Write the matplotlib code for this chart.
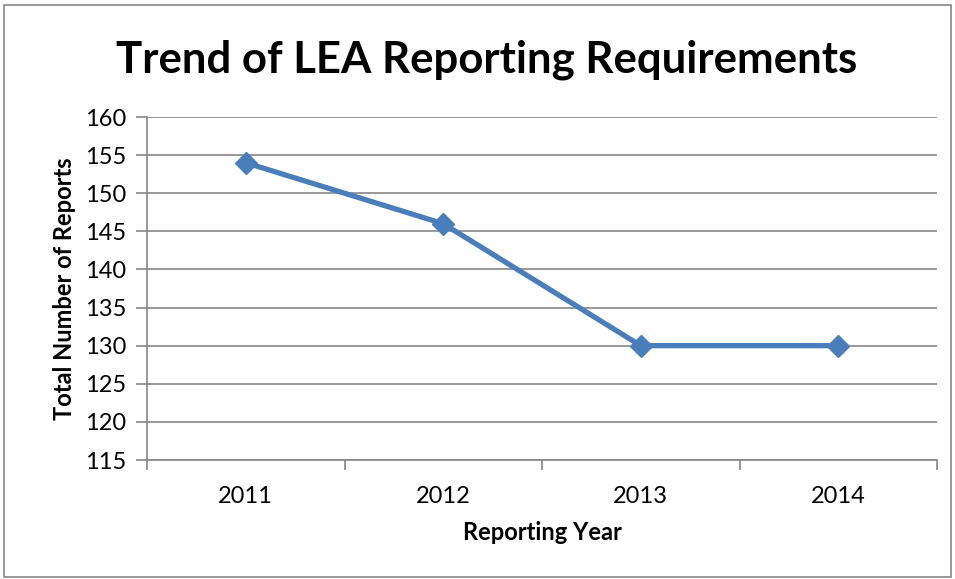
import matplotlib
matplotlib.use("Agg")
import matplotlib.pyplot as plt
from matplotlib.patches import Rectangle

years = ["2011", "2012", "2013", "2014"]
reports = [154, 146, 130, 130]

plt.rcParams['font.family'] = ['Lato', 'DejaVu Sans']

fig = plt.figure(figsize=(9.55, 5.79), dpi=100)
ax = fig.add_axes([147/955, 1-460/579, (937-147)/955, (460-117)/579])

x = list(range(len(years)))
ax.plot(x, reports, color='#4A7EBB', linewidth=3.8, marker='D', markersize=11.5,
        markerfacecolor='#4A7EBB', markeredgecolor='#4A7EBB', zorder=3)

ax.set_xlim(-0.5, len(years) - 0.5)
ax.set_ylim(115, 160)
ax.set_yticks(range(115, 161, 5))
ax.set_xticks(x)
ax.set_xticklabels(years)
ax.set_xticks([i - 0.5 for i in range(len(years) + 1)], minor=True)
ax.tick_params(axis='x', which='major', length=0, pad=19, labelsize=17)
ax.tick_params(axis='x', which='minor', length=7, color='#868686', width=1.2)
ax.tick_params(axis='y', length=8, color='#868686', width=1.2, pad=7, labelsize=17)

ax.grid(axis='y', color='#868686', linewidth=1.2)
ax.set_axisbelow(True)
for s in ['top', 'right']:
    ax.spines[s].set_visible(False)
for s in ['left', 'bottom']:
    ax.spines[s].set_color('#868686')
    ax.spines[s].set_linewidth(1.2)

ax.set_xlabel("Reporting Year", fontsize=17, fontweight='bold', labelpad=10)
ax.set_ylabel("Total Number of Reports", fontsize=17, fontweight='bold', labelpad=6)

fig.text(487/955, 1-60/579, "Trend of LEA Reporting Requirements", ha='center', va='center',
         fontsize=31.5, fontweight='bold')

fig.patches.append(Rectangle((4/955, 2/579), 947/955, 572/579, transform=fig.transFigure,
                             fill=False, edgecolor='#868686', linewidth=1.2))

fig.savefig("out.png", dpi=100)
